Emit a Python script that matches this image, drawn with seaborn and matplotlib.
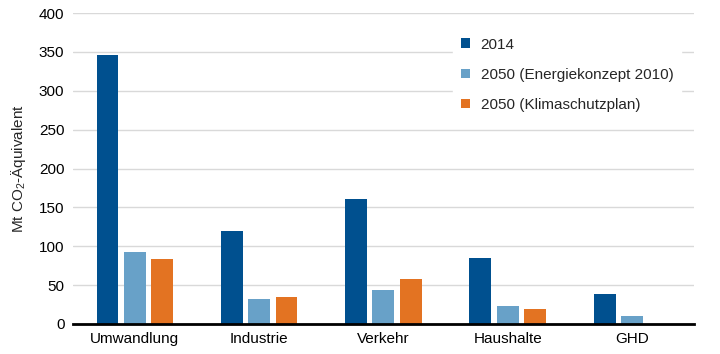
import seaborn as sns
import matplotlib.pyplot as plt
import pandas as pd
import numpy as np

# values (Mt CO2-equivalent)
sectors = ['Umwandlung', 'Industrie', 'Verkehr', 'Haushalte', 'GHD']
series = ['2014', '2050 (Energiekonzept 2010)', '2050 (Klimaschutzplan)']
v2014 = [346, 120, 161, 85, 39]
v2050_ek = [92, 32, 43, 23, 10]
v2050_ksp = [83, 35, 58, 19, 0]
colors = ['#00508f', '#68a1c8', '#e37322']

rows = []
for name, vals in zip(series, [v2014, v2050_ek, v2050_ksp]):
    for s, v in zip(sectors, vals):
        rows.append({'Sektor': s, 'Szenario': name, 'Wert': v})
data = pd.DataFrame(rows)

sns.set_style('white')
plt.rcParams['font.family'] = ['Liberation Sans', 'DejaVu Sans']
plt.rcParams['mathtext.default'] = 'regular'

fig = plt.figure(figsize=(7.2, 3.54), dpi=100)
ax = fig.add_axes([0.101, 0.085, 0.863, 0.878])

sns.barplot(data=data, x='Sektor', y='Wert', hue='Szenario', order=sectors,
            hue_order=series, palette=colors, width=0.66, gap=0.2,
            linewidth=0, saturation=1, ax=ax)

ax.set_ylim(0, 400)
ax.set_xlim(-0.5, 4.5)
ax.set_yticks(np.arange(0, 401, 50))
ax.yaxis.grid(True, color='#d9d9d9', linewidth=1)
ax.set_axisbelow(True)
for side in ['top', 'right', 'left']:
    ax.spines[side].set_visible(False)
ax.spines['bottom'].set_color('black')
ax.spines['bottom'].set_linewidth(2)
ax.tick_params(axis='both', length=0, labelsize=11, colors='black', pad=6)
ax.set_xlabel('')
ax.set_ylabel('Mt CO$_2$-Äquivalent', fontsize=11, labelpad=8)

leg = ax.legend(loc='upper left', bbox_to_anchor=(0.6, 0.97), frameon=True,
                fontsize=11, handlelength=0.6, handleheight=0.6,
                labelspacing=1.05, handletextpad=0.7, borderpad=0.5)
leg.get_frame().set_facecolor('white')
leg.get_frame().set_edgecolor('white')
leg.get_frame().set_alpha(1)

plt.savefig('out.png', dpi=100)
